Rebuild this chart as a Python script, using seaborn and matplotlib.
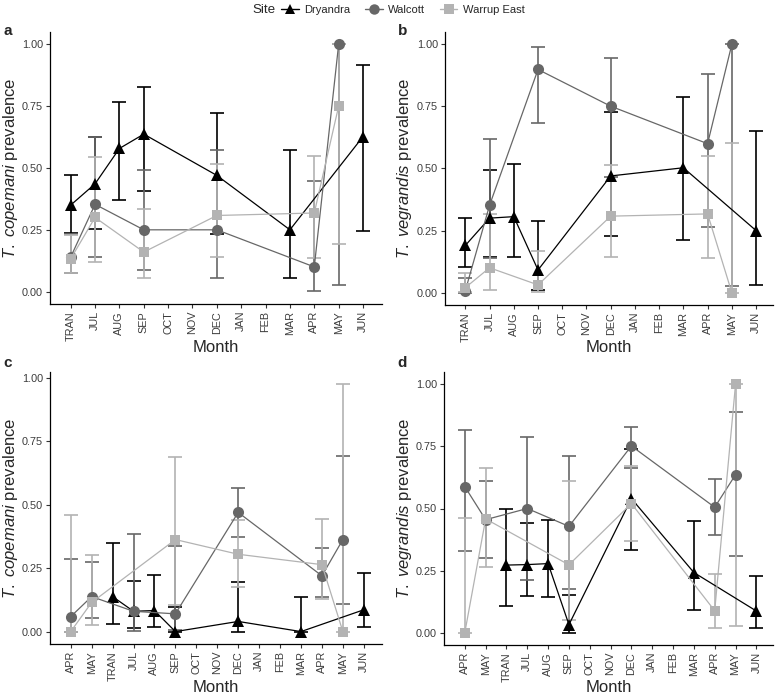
import numpy as np
import pandas as pd
import matplotlib
matplotlib.use("Agg")
import matplotlib.pyplot as plt
import seaborn as sns
from matplotlib.lines import Line2D

N = None
sites = ["Dryandra", "Walcott", "Warrup East"]
months_top = ["TRAN", "JUL", "AUG", "SEP", "OCT", "NOV", "DEC", "JAN", "FEB", "MAR", "APR", "MAY", "JUN"]
months_bottom = ["APR", "MAY", "TRAN", "JUL", "AUG", "SEP", "OCT", "NOV", "DEC", "JAN", "FEB", "MAR", "APR", "MAY", "JUN"]
y_ticks = [0.0, 0.25, 0.5, 0.75, 1.0]
y_tick_labels = ["0.00", "0.25", "0.50", "0.75", "1.00"]

# ---- panel a: T. copemani, top months ----
a_dry = [0.35, 0.436, 0.579, 0.637, N, N, 0.47, N, N, 0.25, N, N, 0.627]
a_dry_lo = [0.236, 0.255, 0.37, 0.405, N, N, 0.232, N, N, 0.056, N, N, 0.245]
a_dry_hi = [0.472, 0.627, 0.768, 0.828, N, N, 0.722, N, N, 0.574, N, N, 0.916]
a_wal = [0.14, 0.353, N, 0.25, N, N, 0.25, N, N, N, 0.10, 1.0, N]
a_wal_lo = [0.076, 0.14, N, 0.088, N, N, 0.056, N, N, N, 0.003, 0.027, N]
a_wal_hi = [0.235, 0.625, N, 0.49, N, N, 0.571, N, N, N, 0.446, 1.0, N]
a_war = [0.133, 0.30, N, 0.16, N, N, 0.308, N, N, N, 0.318, 0.75, N]
a_war_lo = [0.074, 0.12, N, 0.056, N, N, 0.141, N, N, N, 0.138, 0.194, N]
a_war_hi = [0.23, 0.544, N, 0.336, N, N, 0.518, N, N, N, 0.548, 1.0, N]

# ---- panel b: T. vegrandis, top months ----
b_dry = [0.19, 0.30, 0.306, 0.091, N, N, 0.47, N, N, 0.503, N, N, 0.25]
b_dry_lo = [0.105, 0.145, 0.142, 0.011, N, N, 0.228, N, N, 0.21, N, N, 0.031]
b_dry_hi = [0.30, 0.495, 0.519, 0.29, N, N, 0.727, N, N, 0.789, N, N, 0.653]
b_wal = [0.008, 0.352, N, 0.899, N, N, 0.751, N, N, N, 0.60, 1.0, N]
b_wal_lo = [0.0, 0.14, N, 0.683, N, N, 0.465, N, N, N, 0.263, 0.025, N]
b_wal_hi = [0.06, 0.618, N, 0.989, N, N, 0.945, N, N, N, 0.88, 1.0, N]
b_war = [0.02, 0.10, N, 0.031, N, N, 0.308, N, N, N, 0.317, 0.0, N]
b_war_lo = [0.003, 0.011, N, 0.004, N, N, 0.142, N, N, N, 0.138, 0.0, N]
b_war_hi = [0.078, 0.316, N, 0.167, N, N, 0.516, N, N, N, 0.55, 0.603, N]

# ---- panel c: T. copemani, bottom months ----
c_dry = [N, N, 0.138, 0.08, 0.083, 0.0, N, N, 0.04, N, N, 0.0, N, N, 0.086]
c_dry_lo = [N, N, 0.03, 0.015, 0.017, 0.0, N, N, 0.0, N, N, 0.0, N, N, 0.017]
c_dry_hi = [N, N, 0.35, 0.20, 0.225, 0.097, N, N, 0.195, N, N, 0.137, N, N, 0.23]
c_wal = [0.059, 0.138, N, 0.08, N, 0.07, N, N, 0.47, N, N, N, 0.22, 0.363, N]
c_wal_lo = [0.0, 0.052, N, 0.003, N, 0.005, N, N, 0.373, N, N, N, 0.138, 0.108, N]
c_wal_hi = [0.288, 0.275, N, 0.385, N, 0.338, N, N, 0.566, N, N, N, 0.328, 0.692, N]
c_war = [0.0, 0.115, N, N, N, 0.363, N, N, 0.305, N, N, N, 0.264, 0.0, N]
c_war_lo = [0.0, 0.026, N, N, N, 0.105, N, N, 0.177, N, N, N, 0.13, 0.0, N]
c_war_hi = [0.46, 0.301, N, N, N, 0.69, N, N, 0.44, N, N, N, 0.444, 0.975, N]

# ---- panel d: T. vegrandis, bottom months ----
d_dry = [N, N, 0.272, 0.274, 0.278, 0.032, N, N, 0.54, N, N, 0.242, N, N, 0.087]
d_dry_lo = [N, N, 0.108, 0.147, 0.142, 0.0, N, N, 0.333, N, N, 0.093, N, N, 0.018]
d_dry_hi = [N, N, 0.50, 0.44, 0.452, 0.153, N, N, 0.74, N, N, 0.45, N, N, 0.23]
d_wal = [0.588, 0.455, N, 0.50, N, 0.428, N, N, 0.752, N, N, N, 0.505, 0.636, N]
d_wal_lo = [0.33, 0.30, N, 0.21, N, 0.175, N, N, 0.665, N, N, N, 0.393, 0.308, N]
d_wal_hi = [0.815, 0.61, N, 0.79, N, 0.71, N, N, 0.828, N, N, N, 0.62, 0.89, N]
d_war = [0.0, 0.458, N, N, N, 0.273, N, N, 0.52, N, N, N, 0.088, 1.0, N]
d_war_lo = [0.0, 0.265, N, N, N, 0.05, N, N, 0.37, N, N, N, 0.018, 0.025, N]
d_war_hi = [0.46, 0.665, N, N, N, 0.61, N, N, 0.67, N, N, N, 0.236, 1.0, N]

sns.set_theme(style="ticks")
plt.rcParams["font.family"] = ["Liberation Sans", "DejaVu Sans"]
plt.rcParams["mathtext.fontset"] = "custom"
plt.rcParams["mathtext.it"] = "Liberation Sans:italic"
plt.rcParams["mathtext.rm"] = "Liberation Sans"

colors = {"Dryandra": "#000000", "Walcott": "#676767", "Warrup East": "#b3b3b3"}
markers = {"Dryandra": "^", "Walcott": "o", "Warrup East": "s"}
msizes = {"Dryandra": 8.0, "Walcott": 8.0, "Warrup East": 7.0}


def make_df(months, series):
    rows = []
    for site, (v, lo, hi) in zip(sites, series):
        for i, m in enumerate(months):
            if v[i] is None:
                continue
            rows.append(dict(Site=site, pos=i, Month=m, prev=v[i], lo=lo[i], hi=hi[i]))
    return pd.DataFrame(rows)


W, H = 779, 698
fig = plt.figure(figsize=(W / 100, H / 100), dpi=100)


def add_axes(l, r, t, b):
    return fig.add_axes([l / W, 1 - b / H, (r - l) / W, (b - t) / H])


def draw(ax, box, months, series, species, xlim, ylim, letter, letter_xy, ylab_x, xlab_y):
    l, r, t, b = box
    df = make_df(months, series)
    for k, site in enumerate(sites):
        d = df[df.Site == site]
        ax.errorbar(d.pos, d.prev, yerr=[d.prev - d.lo, d.hi - d.prev], fmt="none",
                    ecolor=colors[site], elinewidth=1.2, capsize=4.7, capthick=1.2,
                    zorder=2 + 0.1 * k)
    for k, site in enumerate(sites):
        d = df[df.Site == site]
        sns.lineplot(data=d, x="pos", y="prev", color=colors[site], marker=markers[site],
                     markersize=msizes[site], markeredgewidth=0, linewidth=0.9,
                     estimator=None, sort=True, ax=ax, zorder=3 + 0.1 * k)
    ax.set_xlim(*xlim)
    ax.set_ylim(*ylim)
    ax.set_xticks(range(len(months)))
    ax.set_xticklabels(months, rotation=90, fontsize=7.8, color="#3c3c3c")
    ax.set_yticks(y_ticks)
    ax.set_yticklabels(y_tick_labels, fontsize=7.8, color="#3c3c3c")
    ax.tick_params(axis="both", length=3, width=0.8, color="#333333", pad=2)
    for s in ["top", "right"]:
        ax.spines[s].set_visible(False)
    for s in ["left", "bottom"]:
        ax.spines[s].set_linewidth(0.9)
        ax.spines[s].set_color("black")
    ax.set_xlabel("Month", fontsize=12)
    ax.set_ylabel(r"$\mathit{T.\ " + species + r"}$ prevalence", fontsize=12)
    w, h = r - l, b - t
    ax.yaxis.set_label_coords((ylab_x - l) / w, 0.5)
    ax.xaxis.set_label_coords(0.5, (b - xlab_y) / h)
    ax.xaxis.label.set_va("center")
    ax.yaxis.label.set_va("center")
    lx, ly = letter_xy
    ax.text((lx - l) / w, (b - ly) / h, letter, transform=ax.transAxes, fontsize=11,
            fontweight="bold", ha="center", va="center")


box_a = (50, 382, 32, 304)
box_b = (445, 773, 32, 305)
box_c = (50, 382, 372, 644)
box_d = (444, 773, 372, 645)
ax_a = add_axes(*box_a)
ax_b = add_axes(*box_b)
ax_c = add_axes(*box_c)
ax_d = add_axes(*box_d)

draw(ax_a, box_a, months_top, [(a_dry, a_dry_lo, a_dry_hi), (a_wal, a_wal_lo, a_wal_hi),
                               (a_war, a_war_lo, a_war_hi)], "copemani", (-0.85, 12.78), (-0.05, 1.05),
     "a", (8, 31), 11, 348)
draw(ax_b, box_b, months_top, [(b_dry, b_dry_lo, b_dry_hi), (b_wal, b_wal_lo, b_wal_hi),
                               (b_war, b_war_lo, b_war_hi)], "vegrandis", (-0.84, 12.7), (-0.05, 1.05),
     "b", (403, 31), 404, 348)
draw(ax_c, box_c, months_bottom, [(c_dry, c_dry_lo, c_dry_hi), (c_wal, c_wal_lo, c_wal_hi),
                                  (c_war, c_war_lo, c_war_hi)], "copemani", (-0.99, 14.87), (-0.049, 1.024),
     "c", (8, 363), 11, 687)
draw(ax_d, box_d, months_bottom, [(d_dry, d_dry_lo, d_dry_hi), (d_wal, d_wal_lo, d_wal_hi),
                                  (d_war, d_war_lo, d_war_hi)], "vegrandis", (-1.0, 14.8), (-0.05, 1.05),
     "d", (402, 363), 404, 687)

handles = [Line2D([0], [0], color=colors[s], marker=markers[s], markersize=msizes[s] - 0.5,
                  markeredgewidth=0, linewidth=1.0) for s in sites]
fig.text(252 / W, 1 - 10 / H, "Site", fontsize=9.6, ha="left", va="center")
fig.legend(handles, sites, loc="center left", bbox_to_anchor=(281 / W, 1 - 10 / H),
           ncol=3, frameon=False, fontsize=8, handlelength=1.6, handletextpad=0.5,
           columnspacing=1.3, borderpad=0, borderaxespad=0)

fig.savefig("out.png", dpi=100)
